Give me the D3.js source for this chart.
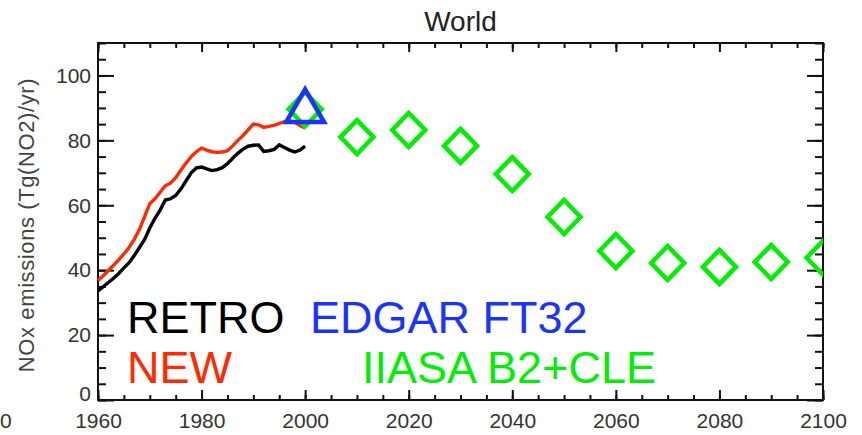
<!DOCTYPE html>
<html>
<head>
<meta charset="utf-8">
<script src="https://cdn.jsdelivr.net/npm/d3@7"></script>
<style>
body{margin:0;background:#fff;}
text{font-family:"Liberation Sans",Arial,sans-serif;}
</style>
</head>
<body>
<div class="chart"></div>
<script>
// data
var years=d3.range(1960,2001);
var retro=[33.6,34.9,36.2,37.5,39.0,40.7,42.3,44.5,47.0,49.5,
	53.0,56.0,58.5,61.6,62.0,63.0,65.0,67.5,70.0,71.5,
	71.8,71.2,70.7,71.0,71.6,72.8,74.5,76.0,77.3,78.2,
	78.5,78.6,76.6,76.8,77.2,78.6,77.8,77.0,76.4,77.0,78.2];
var newer=[36.8,38.3,39.9,41.5,43.2,45.0,47.0,49.5,52.5,56.5,
	60.5,62.0,64.0,66.0,66.8,68.5,70.8,73.0,75.0,76.5,
	77.6,77.0,76.5,76.3,76.4,76.8,78.3,80.0,81.5,83.2,
	85.0,84.8,84.0,84.3,84.6,85.2,85.8,86.0,85.6,84.6,83.8];
var edgarYear=[2000];
var edgar=[89];
var iiasaYears=[2000,2010,2020,2030,2040,2050,2060,2070,2080,2090,2100];
var iiasa=[89.6,81,83.2,78.3,69.6,56.4,45.9,42.2,41,42.5,43.8];
var xTicks=[1960,1980,2000,2020,2040,2060,2080,2100];
var yTicks=[0,20,40,60,80,100];

var width=862,height=435;
var pL=98,pR=823,pT=43,pB=400;

var svg=d3.select('div.chart').append('svg')
	.attr('width',width)
	.attr('height',height);

var x=d3.scaleLinear().domain([1960,2100]).range([pL,pR]);
var y=d3.scaleLinear().domain([0,110]).range([pB,pT]);

svg.append('clipPath').attr('id','plotclip')
	.append('rect')
	.attr('x',pL).attr('y',pT)
	.attr('width',pR-pL).attr('height',pB-pT);

// axes, ticks pointing inward
function styleAxis(g){
	g.select('.domain').remove();
	g.selectAll('.tick line').attr('stroke','#111').attr('stroke-width',2);
	g.selectAll('.tick text').attr('fill','#333').attr('font-size','21px');
}
var minorX=d3.range(1960,2101,5);
var minorY=d3.range(0,111,5);

svg.append('g').attr('transform','translate(0,'+pB+')')
	.call(d3.axisBottom(x).tickValues(minorX).tickSize(-5).tickFormat(''))
	.call(styleAxis);
svg.append('g').attr('transform','translate(0,'+pB+')')
	.call(d3.axisBottom(x).tickValues(xTicks).tickSize(-10).tickPadding(13).tickFormat(d3.format('d')))
	.call(styleAxis);
svg.append('g').attr('transform','translate(0,'+pT+')')
	.call(d3.axisTop(x).tickValues(minorX).tickSize(-5).tickFormat(''))
	.call(styleAxis);
svg.append('g').attr('transform','translate(0,'+pT+')')
	.call(d3.axisTop(x).tickValues(xTicks).tickSize(-9).tickFormat(''))
	.call(styleAxis);

svg.append('g').attr('transform','translate('+pL+',0)')
	.call(d3.axisLeft(y).tickValues(minorY).tickSize(-8).tickFormat(''))
	.call(styleAxis);
var yAx=svg.append('g').attr('transform','translate('+pL+',0)')
	.call(d3.axisLeft(y).tickValues(yTicks).tickSize(-16).tickPadding(7))
	.call(styleAxis);
// zero label sits a bit above the corner
yAx.selectAll('.tick text').filter(function(d){return d===0;}).attr('dy','0.0em');
svg.append('g').attr('transform','translate('+pR+',0)')
	.call(d3.axisRight(y).tickValues(minorY).tickSize(-8).tickFormat(''))
	.call(styleAxis);
svg.append('g').attr('transform','translate('+pR+',0)')
	.call(d3.axisRight(y).tickValues(yTicks).tickSize(-16).tickFormat(''))
	.call(styleAxis);

svg.append('rect')
	.attr('x',pL).attr('y',pT)
	.attr('width',pR-pL).attr('height',pB-pT)
	.attr('fill','none').attr('stroke','#111').attr('stroke-width',2);

// lines
var line=d3.line()
	.x(function(d,i){return x(years[i]);})
	.y(function(d){return y(d);});
svg.append('path').datum(retro)
	.attr('d',line).attr('fill','none')
	.attr('stroke','#000').attr('stroke-width',3.4);
svg.append('path').datum(newer)
	.attr('d',line).attr('fill','none')
	.attr('stroke','#ff2a00').attr('stroke-width',3.4);

// IIASA diamonds
var dia='M0,-17L16.5,0L0,17L-16.5,0Z';
svg.append('g').attr('clip-path','url(#plotclip)')
	.selectAll('path').data(iiasa).enter()
	.append('path')
	.attr('d',dia)
	.attr('transform',function(d,i){return 'translate('+x(iiasaYears[i])+','+y(d)+')';})
	.attr('fill','none')
	.attr('stroke','#00ee00')
	.attr('stroke-width',4.5)
	.attr('stroke-linejoin','miter');

// EDGAR triangle
svg.selectAll('.edgar').data(edgar).enter()
	.append('path')
	.attr('class','edgar')
	.attr('d',d3.symbol().type(d3.symbolTriangle).size(620))
	.attr('transform',function(d,i){return 'translate('+x(edgarYear[i])+','+y(d)+')';})
	.attr('fill','none')
	.attr('stroke','#1a33ff')
	.attr('stroke-width',4.5);

// labels
svg.append('text')
	.attr('x',(pL+pR)/2).attr('y',31)
	.attr('text-anchor','middle')
	.attr('font-size','28px').attr('fill','#222')
	.text('World');

svg.append('text')
	.attr('transform','translate(34,225) rotate(-90)')
	.attr('text-anchor','middle')
	.attr('font-size','22px').attr('fill','#444')
	.attr('letter-spacing','0.6px')
	.text('NOx emissions (Tg(NO2)/yr)');

// fragment of the neighbouring panel's label at the left edge
svg.append('text')
	.attr('x',0).attr('y',428)
	.attr('font-size','21px').attr('fill','#333')
	.text('0');

var legend=[
	{t:'RETRO',c:'#000',x:127,y:333},
	{t:'EDGAR FT32',c:'#1a33ff',x:310,y:333},
	{t:'NEW',c:'#ff2a00',x:127,y:383},
	{t:'IIASA B2+CLE',c:'#00ee00',x:362,y:383}
];
svg.selectAll('.leg').data(legend).enter()
	.append('text')
	.attr('class','leg')
	.attr('x',function(d){return d.x;})
	.attr('y',function(d){return d.y;})
	.attr('font-size','45px')
	.attr('fill',function(d){return d.c;})
	.text(function(d){return d.t;});
</script>
</body>
</html>
